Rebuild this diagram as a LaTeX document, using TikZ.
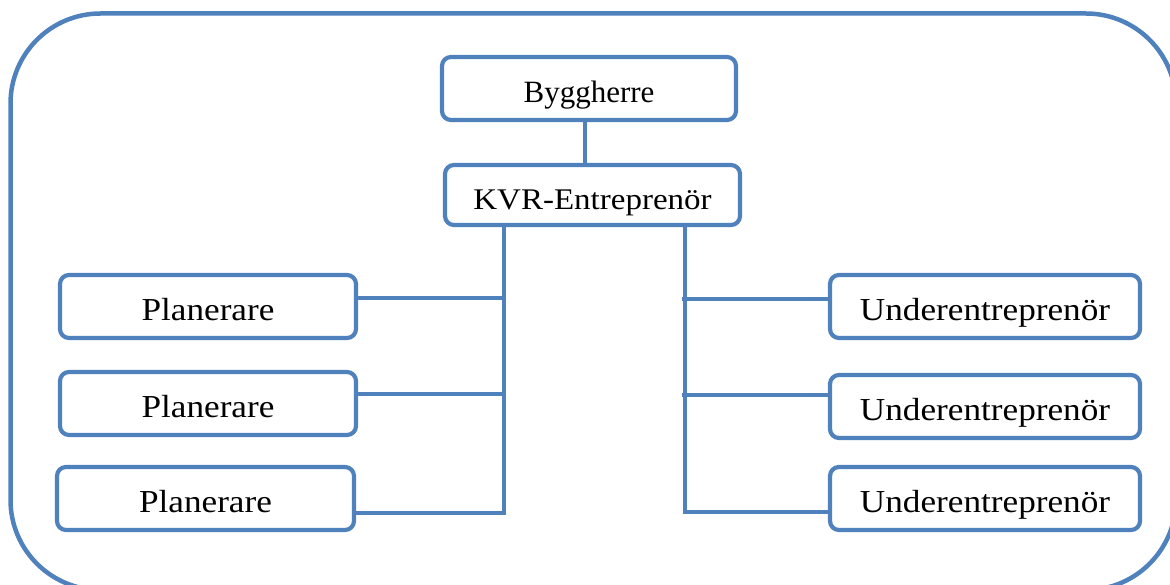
\documentclass[tikz,border=0pt]{standalone}
\usepackage{fontspec}
\setmainfont{Liberation Serif}[FakeStretch=1.1]
\newfontfamily\plainserif{Liberation Serif}
\definecolor{orgblue}{HTML}{4F81BD}
\begin{document}
\begin{tikzpicture}[x=1pt,y=-1pt,
  box/.style={draw=orgblue, line width=4.2pt, rounded corners=9pt, inner sep=0pt,
    text height=28pt, text depth=0pt, minimum height=63pt,
    font=\fontsize{32}{38}\selectfont},
  link/.style={draw=orgblue, line width=3.2pt},
  frame/.style={draw=orgblue, line width=4.5pt, rounded corners=90pt}]
\useasboundingbox (0,0) rectangle (1170,585);

% surrounding frame
\draw[frame] (10.5,13.5) rectangle (1176,590);

% client and main contractor
\node[box, minimum width=294pt, font=\plainserif\fontsize{31}{37}\selectfont] (byg) at (589,88.5) {Byggherre};
\node[box, minimum width=295pt, minimum height=60pt, text height=30pt,
      font=\fontsize{30}{36}\selectfont] (kvr) at (592.5,195) {KVR-Entreprenör};

% planners
\node[box, minimum width=296pt] (pl1) at (208,306.5) {Planerare};
\node[box, minimum width=296pt] (pl2) at (208,403.5) {Planerare};
\node[box, minimum width=297pt] (pl3) at (205.5,498.5) {Planerare};

% subcontractors
\node[box, minimum width=310pt] (ue1) at (985,306.5) {Underentreprenör};
\node[box, minimum width=310pt] (ue2) at (985,406.5) {Underentreprenör};
\node[box, minimum width=310pt] (ue3) at (985,498.5) {Underentreprenör};

% junction points
\coordinate (j1) at (504,298);
\coordinate (j2) at (502,394);
\coordinate (lt) at (504,513);
\coordinate (k1) at (682,299);
\coordinate (k2) at (682,395);
\coordinate (rt) at (685,512);

% connectors
\draw[link] ([xshift=-4pt]byg.south) -- ([xshift=-4pt]byg.south |- kvr.north);
\draw[link] (kvr.south -| lt) -- (lt) -- (pl3.east |- lt);
\draw[link] (pl1.east |- j1) -- (j1);
\draw[link] (pl2.east |- j2) -- (j2);
\draw[link] (kvr.south -| rt) -- (rt) -- (ue3.west |- rt);
\draw[link] (k1) -- (ue1.west |- k1);
\draw[link] (k2) -- (ue2.west |- k2);
\end{tikzpicture}
\end{document}
